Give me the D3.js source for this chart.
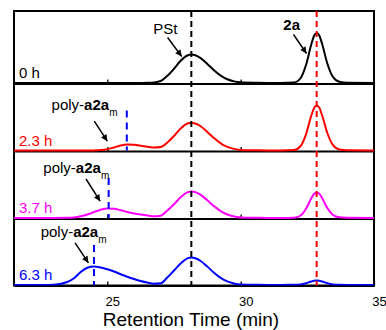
<!DOCTYPE html>
<html>
<head>
<meta charset="utf-8">
<script src="https://cdn.jsdelivr.net/npm/d3@7"></script>
<style>
  body { margin: 0; background: #fff; }
</style>
</head>
<body>
<div id="chart"></div>
<script>
// GPC traces of the polymerisation, one panel per reaction time.
// Signals in arbitrary detector units.

const times = [
  21.5, 22.5, 23.0, 23.5, 23.75, 24.0, 24.25, 24.5, 24.75, 25.0,
  25.25, 25.5, 25.75, 26.0, 26.25, 26.5, 26.75, 27.0, 27.25, 27.5,
  27.75, 28.0, 28.15, 28.3, 28.5, 28.75, 29.0, 29.25, 29.5, 29.75,
  30.0, 30.5, 31.0, 31.5, 32.0, 32.25, 32.45, 32.65, 32.75, 32.85,
  32.95, 33.05, 33.25, 33.45, 33.7, 34.0, 35.0
];

const signal0h = [
  0, 0, 0, 0, 0, 0, 0, 0, 0, 0,
  0, 0, 0, 0, 0.001, 0.003, 0.011, 0.04, 0.143, 0.285,
  0.445, 0.55, 0.57, 0.556, 0.498, 0.382, 0.255, 0.148, 0.075, 0.033,
  0.013, 0.004, 0.002, 0.002, 0.01, 0.1, 0.36, 0.775, 0.94, 1.0,
  0.95, 0.79, 0.39, 0.13, 0.025, 0.005, 0
];

const signal2h = [
  0, 0, 0, 0, 0, 0, 0, 0.002, 0.008, 0.025,
  0.06, 0.1, 0.12, 0.113, 0.095, 0.074, 0.058, 0.068, 0.16, 0.29,
  0.44, 0.54, 0.555, 0.541, 0.485, 0.372, 0.248, 0.144, 0.073, 0.032,
  0.012, 0.004, 0.002, 0.001, 0.009, 0.09, 0.324, 0.7, 0.846, 0.9,
  0.855, 0.71, 0.35, 0.117, 0.022, 0.005, 0
];

const signal3h = [
  0, 0, 0, 0.003, 0.012, 0.035, 0.07, 0.12, 0.165, 0.19,
  0.183, 0.155, 0.12, 0.092, 0.07, 0.052, 0.034, 0.045, 0.15, 0.275,
  0.415, 0.512, 0.53, 0.517, 0.463, 0.355, 0.237, 0.138, 0.07, 0.031,
  0.012, 0.004, 0.002, 0.001, 0.005, 0.051, 0.184, 0.395, 0.48, 0.51,
  0.485, 0.403, 0.199, 0.066, 0.013, 0.003, 0
];

const signal6h = [
  0, 0, 0.005, 0.06, 0.135, 0.26, 0.345, 0.37, 0.35, 0.315,
  0.27, 0.215, 0.165, 0.12, 0.08, 0.048, 0.025, 0.035, 0.15, 0.29,
  0.43, 0.532, 0.55, 0.536, 0.48, 0.368, 0.246, 0.143, 0.072, 0.032,
  0.012, 0.004, 0.002, 0.002, 0.004, 0.012, 0.035, 0.07, 0.083, 0.088,
  0.083, 0.07, 0.035, 0.012, 0.003, 0.001, 0
];

const panelLabels = ["0 h", "2.3 h", "3.7 h", "6.3 h"];
const panelSignals = [signal0h, signal2h, signal3h, signal6h];
const panelColours = ["#000000", "#ff0000", "#ff00ff", "#0000ff"];

const pstTime = 28.15;      // PSt standard peak
const monomerTime = 32.85;  // monomer 2a peak
const polyPeakTimes = [null, 25.73, 25.05, 24.5];
const polyMarkerHeight = 0.8;

const xTicks = [25, 30, 35];
const xDomain = [21.5, 35];

// annotations, in data units (time, signal) of their panel
const annotations = [
  { panel: 0, kind: "plain", text: "PSt", at: [26.72, 0.98], from: [27.26, 0.91], to: [27.79, 0.53] },
  { panel: 0, kind: "bold", text: "2a", at: [31.6, 1.06], from: [31.98, 0.97], to: [32.47, 0.59] },
  { panel: 1, kind: "poly", at: [22.91, 0.82], from: [24.51, 0.586], to: [25.0, 0.186] },
  { panel: 2, kind: "poly", at: [22.6, 0.9], from: [24.2, 0.78], to: [24.73, 0.336] },
  { panel: 3, kind: "poly", at: [22.5, 0.96], from: [23.79, 0.844], to: [24.29, 0.444] }
];

const width = 386;
const height = 330;
const margin = { top: 11, right: 12, bottom: 44.5, left: 14 };
const panelBottoms = [83.5, 151, 218.5, 285.5];
const unitPx = 50;
const font = "'Liberation Sans', Arial, Helvetica, sans-serif";

const svg = d3
  .select("#chart")
  .append("svg")
  .attr("width", width)
  .attr("height", height)
  .style("display", "block");

svg
  .append("defs")
  .append("marker")
  .attr("id", "arrow")
  .attr("viewBox", "0 0 10 10")
  .attr("refX", 10)
  .attr("refY", 5)
  .attr("markerUnits", "userSpaceOnUse")
  .attr("markerWidth", 7.5)
  .attr("markerHeight", 6.5)
  .attr("orient", "auto")
  .append("path")
  .attr("d", "M0,0 L10,5 L0,10 z")
  .attr("fill", "black");

svg
  .append("clipPath")
  .attr("id", "plot-clip")
  .append("rect")
  .attr("x", margin.left)
  .attr("y", margin.top)
  .attr("width", width - margin.left - margin.right)
  .attr("height", height - margin.top - margin.bottom);

const x = d3
  .scaleLinear()
  .domain(xDomain)
  .range([margin.left, width - margin.right]);

const yScales = panelBottoms.map((b) =>
  d3.scaleLinear().domain([0, 1]).range([b - 0.5, b - 0.5 - unitPx])
);

// panel axes, ticks point inwards
panelBottoms.forEach(function (b, i) {
  const last = i === panelBottoms.length - 1;
  const axis = d3
    .axisBottom(x)
    .tickValues(last ? xTicks : xTicks.slice(0, 2))
    .tickSize(-4)
    .tickSizeOuter(0)
    .tickPadding(11)
    .tickFormat(last ? d3.format("d") : "");

  const g = svg
    .append("g")
    .attr("transform", `translate(0,${b})`)
    .call(axis);

  g.select(".domain").attr("stroke", "black").attr("stroke-width", 2);
  g.selectAll(".tick line").attr("stroke", "black").attr("stroke-width", 1.3);
  g.selectAll(".tick text")
    .attr("dx", 5)
    .style("font-family", font)
    .style("font-size", "13px")
    .attr("fill", "black");
});

// frame
svg
  .append("rect")
  .attr("x", margin.left)
  .attr("y", margin.top)
  .attr("width", width - margin.left - margin.right)
  .attr("height", panelBottoms[3] - margin.top)
  .attr("fill", "none")
  .attr("stroke", "black")
  .attr("stroke-width", 2);

// traces
const plot = svg.append("g").attr("clip-path", "url(#plot-clip)");

panelSignals.forEach(function (sig, i) {
  const line = d3
    .line()
    .x((d) => x(d[0]))
    .y((d) => yScales[i](d[1]))
    .curve(d3.curveMonotoneX);

  plot
    .append("path")
    .datum(d3.zip(times, sig))
    .attr("d", line)
    .attr("fill", "none")
    .attr("stroke", panelColours[i])
    .attr("stroke-width", 2)
    .attr("stroke-linejoin", "round");
});

// reference lines through all panels
[
  { t: pstTime, colour: "#000000" },
  { t: monomerTime, colour: "#ff0000" }
].forEach(function (ref) {
  svg
    .append("line")
    .attr("x1", x(ref.t))
    .attr("x2", x(ref.t))
    .attr("y1", margin.top)
    .attr("y2", panelBottoms[3])
    .attr("stroke", ref.colour)
    .attr("stroke-width", 2)
    .attr("stroke-dasharray", "6,4");
});

// polymer peak markers
polyPeakTimes.forEach(function (t, i) {
  if (t === null) return;
  svg
    .append("line")
    .attr("x1", x(t))
    .attr("x2", x(t))
    .attr("y1", yScales[i](polyMarkerHeight))
    .attr("y2", yScales[i](0))
    .attr("stroke", "#0000ff")
    .attr("stroke-width", 2)
    .attr("stroke-dasharray", "7,5");
});

// panel time labels
panelLabels.forEach(function (lab, i) {
  svg
    .append("text")
    .attr("x", margin.left + 5)
    .attr("y", panelBottoms[i] - 5.5)
    .style("font-family", font)
    .style("font-size", "15px")
    .attr("fill", panelColours[i])
    .text(lab);
});

// annotations with arrows
annotations.forEach(function (a) {
  const ys = yScales[a.panel];
  const t = svg
    .append("text")
    .attr("x", x(a.at[0]))
    .attr("y", ys(a.at[1]))
    .style("font-family", font)
    .style("font-size", "15px")
    .attr("fill", "black");

  if (a.kind === "poly") {
    t.append("tspan").text("poly-");
    t.append("tspan").style("font-weight", "bold").text("a2a");
    t.append("tspan").attr("dy", 6).style("font-size", "10px").text("m");
  } else {
    t.style("font-weight", a.kind === "bold" ? "bold" : "normal").text(a.text);
  }

  svg
    .append("line")
    .attr("x1", x(a.from[0]))
    .attr("y1", ys(a.from[1]))
    .attr("x2", x(a.to[0]))
    .attr("y2", ys(a.to[1]))
    .attr("stroke", "black")
    .attr("stroke-width", 1.5)
    .attr("marker-end", "url(#arrow)");
});

// x axis title
svg
  .append("text")
  .attr("x", 191)
  .attr("y", 326)
  .attr("text-anchor", "middle")
  .style("font-family", font)
  .style("font-size", "19px")
  .attr("fill", "black")
  .text("Retention Time (min)");
</script>
</body>
</html>
